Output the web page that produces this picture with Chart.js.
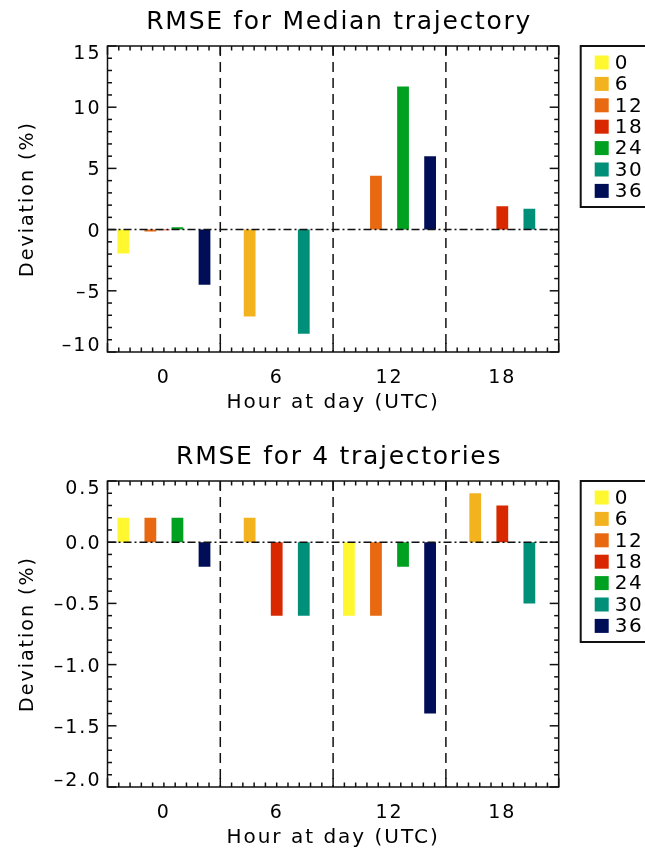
<!DOCTYPE html>
<html lang="en">
<head>
<meta charset="UTF-8">
<title>RMSE deviation by hour of day</title>
<script src="https://cdn.jsdelivr.net/npm/chart.js"></script>
<style>
  body { margin: 0; background: #fff; }
  canvas { display: block; }
</style>
</head>
<body>
<canvas id="medianChart" width="645" height="430"></canvas>
<canvas id="fourChart" width="645" height="423"></canvas>

<script>
// categories (hour at day, UTC) and the lead times shown as series
const hours = ['0', '6', '12', '18'];
const leadTimes = ['0', '6', '12', '18', '24', '30', '36'];
const leadColors = ['#fff830', '#f2b31f', '#e8690f', '#d92800', '#00a020', '#008f78', '#000e58'];

// RMSE for median trajectory, deviation (%) per lead time, one value per hour
const median0 = [-1.95, 0, 0, 0];
const median6 = [0, -7.1, 0, 0];
const median12 = [-0.15, 0, 4.4, 0];
const median18 = [-0.05, 0, 0, 1.9];
const median24 = [0.2, 0, 11.7, 0];
const median30 = [0, -8.5, 0, 1.7];
const median36 = [-4.5, 0, 6.0, 0];

// RMSE for 4 trajectories
const four0 = [0.2, 0, -0.6, 0];
const four6 = [0, 0.2, 0, 0.4];
const four12 = [0.2, 0, -0.6, 0];
const four18 = [0, -0.6, 0, 0.3];
const four24 = [0.2, 0, -0.2, 0];
const four30 = [0, -0.6, 0, -0.5];
const four36 = [-0.2, 0, -1.4, 0];

const medianTicks = [-10, -5, 0, 5, 10, 15];
const fourTicks = [-2.0, -1.5, -1.0, -0.5, 0.0, 0.5];

const FONT = '"DejaVu Sans", sans-serif';

function line(ctx, x1, y1, x2, y2) {
  ctx.beginPath();
  ctx.moveTo(x1, y1);
  ctx.lineTo(x2, y2);
  ctx.stroke();
}

function fmt(v, decimals) {
  const s = Math.abs(v).toFixed(decimals);
  return v < -1e-9 ? '\u2013' + s : s;
}

// IDL-like frame: box, inward ticks, separators, zero line, labels, title, legend
const idlFrame = {
  id: 'idlFrame',
  beforeDraw(chart) {
    // the reference font is wide-set
    chart.ctx.letterSpacing = '2px';
  },
  afterDatasetsDraw(chart, args, opts) {
    const { ctx, chartArea: a, scales: { x, y } } = chart;
    ctx.save();
    ctx.strokeStyle = '#111';
    ctx.lineWidth = 1.5;

    // dash-dot zero line
    const y0 = y.getPixelForValue(0);
    ctx.setLineDash([8, 3, 2, 3]);
    line(ctx, a.left, y0, a.right, y0);

    // dashed separators between hours
    ctx.setLineDash([10, 6]);
    const n = chart.data.labels.length;
    for (let i = 1; i < n; i++) {
      const xb = (x.getPixelForValue(i - 1) + x.getPixelForValue(i)) / 2;
      line(ctx, xb, a.top, xb, a.bottom);
    }

    ctx.setLineDash([]);
    ctx.strokeRect(a.left, a.top, a.width, a.height);

    // y ticks, major and minor, on both sides
    const steps = Math.round((y.max - y.min) / opts.minor);
    for (let i = 0; i <= steps; i++) {
      const py = y.getPixelForValue(y.min + i * opts.minor);
      const len = i % opts.perMajor === 0 ? 9 : 4.5;
      line(ctx, a.left, py, a.left + len, py);
      line(ctx, a.right, py, a.right - len, py);
    }

    // x ticks: ten per category, longer at category edges
    const w = a.width / n;
    for (let i = 0; i <= n * 10; i++) {
      const px = a.left + i * w / 10;
      const len = i % 10 === 0 ? 9 : 4.5;
      line(ctx, px, a.bottom, px, a.bottom - len);
      line(ctx, px, a.top, px, a.top + len);
    }

    // y tick labels, end labels pulled inside the frame
    ctx.fillStyle = '#000';
    ctx.font = '19px ' + FONT;
    ctx.letterSpacing = '2px';
    ctx.textAlign = 'right';
    ctx.textBaseline = 'middle';
    const last = y.ticks.length - 1;
    y.ticks.forEach((t, i) => {
      let py = y.getPixelForValue(t.value) + 2;
      if (i === 0) py -= 8;
      if (i === last) py += 6;
      ctx.fillText(fmt(t.value, opts.decimals), a.left - 6, py);
    });

    // title
    ctx.font = '25px ' + FONT;
    ctx.letterSpacing = '1.7px';
    ctx.textAlign = 'center';
    ctx.fillText(opts.title, (a.left + a.right) / 2 + 6, a.top - 24);

    // legend box
    const lx = a.right + 22;
    ctx.lineWidth = 2;
    ctx.strokeRect(lx, a.top, 80, 161);
    ctx.font = '20px ' + FONT;
    ctx.letterSpacing = '1.5px';
    ctx.textAlign = 'left';
    chart.data.datasets.forEach((ds, i) => {
      const top = a.top + 9.5 + i * 21.4;
      ctx.fillStyle = ds.backgroundColor;
      ctx.fillRect(lx + 14, top, 14, 14);
      ctx.fillStyle = '#000';
      ctx.fillText(ds.label, lx + 34, top + 8);
    });
    ctx.restore();
  }
};

function makeChart(id, title, series, ticks, minor, perMajor, decimals, topPad, bottomPad) {
  new Chart(document.getElementById(id), {
    type: 'bar',
    data: {
      labels: hours,
      datasets: series.map((values, i) => ({
        label: leadTimes[i],
        data: values,
        backgroundColor: leadColors[i],
        borderWidth: 0,
        categoryPercentage: 0.84,
        barPercentage: 0.87
      }))
    },
    options: {
      responsive: false,
      animation: false,
      layout: { padding: { top: topPad, right: 86.3, left: 0, bottom: bottomPad } },
      plugins: {
        legend: { display: false },
        tooltip: { enabled: false },
        idlFrame: { title: title, minor: minor, perMajor: perMajor, decimals: decimals }
      },
      scales: {
        x: {
          grid: { display: false, drawTicks: false },
          border: { display: false },
          ticks: { padding: 15, color: '#000', font: { size: 19, family: FONT } },
          title: {
            display: true, text: 'Hour at day (UTC)', color: '#000',
            font: { size: 20, family: FONT }, padding: { top: 0, bottom: 3 }
          },
          afterFit(scale) { scale.height = 66; }
        },
        y: {
          min: ticks[0],
          max: ticks[ticks.length - 1],
          grid: { display: false, drawTicks: false },
          border: { display: false },
          ticks: { stepSize: ticks[1] - ticks[0], display: false },
          title: {
            display: true, text: 'Deviation (%)', color: '#000',
            font: { size: 19, family: FONT }, padding: { top: 17, bottom: 0 }
          },
          afterFit(scale) { scale.width = 107.5; }
        }
      }
    },
    plugins: [idlFrame]
  });
}

makeChart('medianChart', 'RMSE for Median trajectory',
  [median0, median6, median12, median18, median24, median30, median36],
  medianTicks, 1, 5, 0, 46, 12);

makeChart('fourChart', 'RMSE for 4 trajectories',
  [four0, four6, four12, four18, four24, four30, four36],
  fourTicks, 0.1, 5, 1, 51, 0);
</script>
</body>
</html>
